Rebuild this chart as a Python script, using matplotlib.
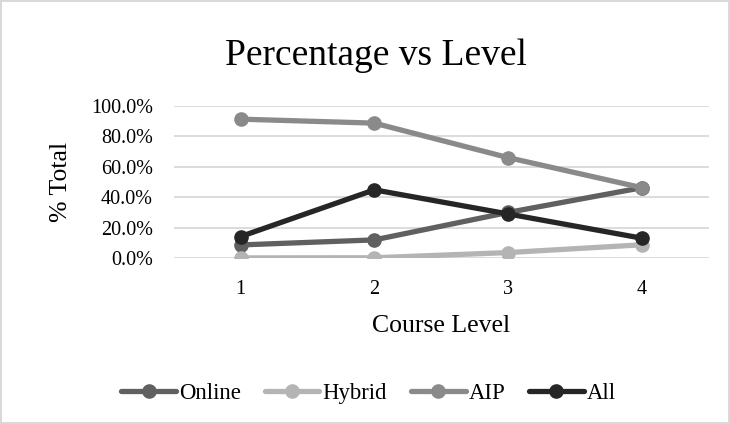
import matplotlib.pyplot as plt
from matplotlib.ticker import FuncFormatter

plt.rcParams['font.family'] = ['Liberation Serif', 'DejaVu Serif']

# ============================================================
# Data
# ============================================================

levels = [1, 2, 3, 4]

online = [0.087, 0.120, 0.300, 0.462]
hybrid = [0.002, 0.003, 0.037, 0.088]
aip = [0.911, 0.885, 0.659, 0.462]
all_courses = [0.142, 0.448, 0.290, 0.131]

series = [
    ("Online", online, "#606060"),
    ("Hybrid", hybrid, "#b4b4b4"),
    ("AIP", aip, "#8a8a8a"),
    ("All", all_courses, "#262626"),
]

# ============================================================
# Plot
# ============================================================

fig = plt.figure(figsize=(7.3, 4.24), dpi=100)
fig.patch.set_edgecolor("#d9d9d9")
fig.patch.set_linewidth(1.5)

ax = fig.add_axes([0.238, 0.391, 0.733, 0.360])

for name, vals, color in series:
    ax.plot(levels, vals, color=color, lw=3.8, marker="o", ms=9.5,
            label=name, solid_capstyle="round")

ax.set_xlim(0.5, 4.5)
ax.set_ylim(0, 1.0)
ax.set_xticks(levels)
ax.set_yticks([0, 0.2, 0.4, 0.6, 0.8, 1.0])
ax.yaxis.set_major_formatter(FuncFormatter(lambda v, p: f"{v * 100:.1f}%"))
ax.tick_params(length=0, labelsize=14.5, colors="#000000")
ax.tick_params(axis="y", pad=15)
ax.tick_params(axis="x", pad=16)
ax.grid(axis="y", color="#d9d9d9", lw=1.3)
ax.set_axisbelow(True)
for s in ax.spines.values():
    s.set_visible(False)

ax.set_xlabel("Course Level", fontsize=18.5)
ax.set_ylabel("% Total", fontsize=18.5)
ax.xaxis.set_label_coords(0.5, -0.375)
ax.yaxis.set_label_coords(-0.19, 0.5)
fig.text(0.515, 0.868, "Percentage vs Level", ha="center", va="center",
         fontsize=27)

fig.legend(loc="center", bbox_to_anchor=(0.505, 0.073), ncol=4, frameon=False,
           fontsize=16.4, handlelength=2.4, handletextpad=0.13,
           columnspacing=1.05)

fig.savefig("out.png", dpi=100)
